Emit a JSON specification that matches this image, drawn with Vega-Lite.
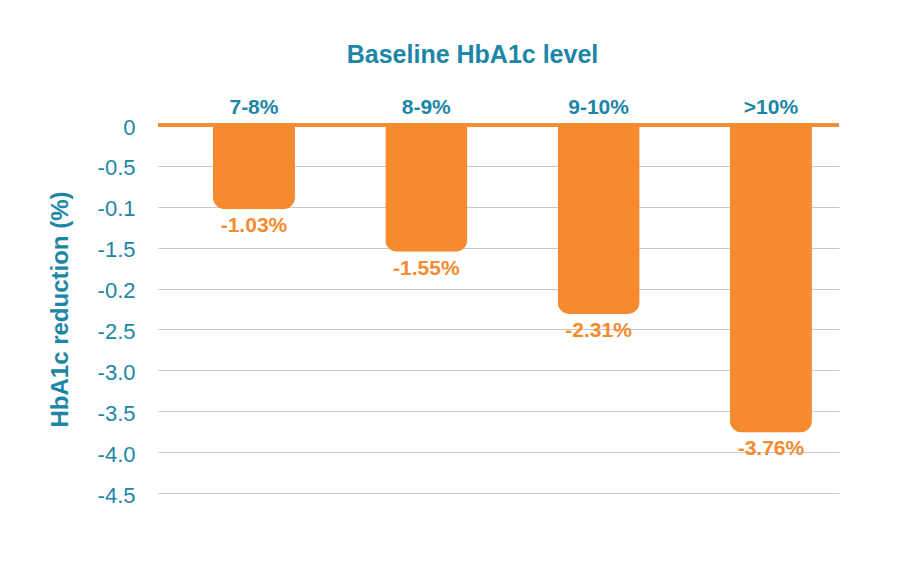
{
  "$schema": "https://vega.github.io/schema/vega-lite/v6.json",
  "autosize": {"type": "none"},
  "padding": {"left": 158, "top": 125, "right": 67, "bottom": 89},
  "width": 681,
  "height": 368,
  "background": "white",
  "config": {
    "view": {"stroke": null},
    "font": "Liberation Sans"
  },
  "data": {
    "values": [
      {"level": "7-8%", "reduction": -1.03, "label": "-1.03%"},
      {"level": "8-9%", "reduction": -1.55, "label": "-1.55%"},
      {"level": "9-10%", "reduction": -2.31, "label": "-2.31%"},
      {"level": ">10%", "reduction": -3.76, "label": "-3.76%"}
    ]
  },
  "encoding": {
    "x": {
      "field": "level",
      "type": "nominal",
      "sort": null,
      "scale": {"paddingInner": 0.524, "paddingOuter": 0.238, "align": 0.67},
      "axis": {
        "orient": "top",
        "title": "Baseline HbA1c level",
        "titleFont": "Liberation Sans",
        "titleFontSize": 25,
        "titleFontWeight": "bold",
        "titleColor": "#1c86a6",
        "titleX": 314,
        "titleY": -63,
        "titleAlign": "center",
        "titleBaseline": "alphabetic",
        "labelAngle": 0,
        "labelFont": "Liberation Sans",
        "labelFontSize": 21,
        "labelFontWeight": "bold",
        "labelColor": "#1c86a6",
        "labelBaseline": "alphabetic",
        "labelPadding": 12,
        "domain": false,
        "ticks": false,
        "grid": false
      }
    },
    "y": {
      "field": "reduction",
      "type": "quantitative",
      "scale": {"domain": [-4.5, 0], "nice": false, "zero": true},
      "axis": {
        "values": [0, -0.5, -1, -1.5, -2, -2.5, -3, -3.5, -4, -4.5],
        "labelExpr": "datum.value === 0 ? '0' : datum.value === -1 ? '-0.1' : datum.value === -2 ? '-0.2' : '-' + format(-datum.value, '.1f')",
        "title": "HbA1c reduction (%)",
        "titleFont": "Liberation Sans",
        "titleFontSize": 24,
        "titleFontWeight": "bold",
        "titleColor": "#1c86a6",
        "titleAngle": -90,
        "titleX": -98,
        "titleY": 184,
        "titleAlign": "center",
        "titleBaseline": "middle",
        "labelFont": "Liberation Sans",
        "labelFontSize": 22,
        "labelFontWeight": "normal",
        "labelColor": "#1c86a6",
        "labelPadding": 23,
        "labelOffset": 2,
        "labelBaseline": "middle",
        "domain": false,
        "ticks": false,
        "grid": true,
        "gridColor": "#c8c8c8",
        "gridWidth": 1
      }
    }
  },
  "layer": [
    {
      "mark": {"type": "bar", "color": "#f58a2f", "cornerRadiusBottomLeft": 12, "cornerRadiusBottomRight": 12}
    },
    {
      "mark": {
        "type": "text",
        "color": "#f58a2f",
        "fontSize": 21,
        "fontWeight": "bold",
        "font": "Liberation Sans",
        "baseline": "middle",
        "align": "center",
        "dy": 17
      },
      "encoding": {"text": {"field": "label"}}
    },
    {
      "mark": {"type": "rule", "color": "#f58a2f", "strokeWidth": 3},
      "encoding": {"y": {"datum": 0}, "x": null}
    }
  ]
}
